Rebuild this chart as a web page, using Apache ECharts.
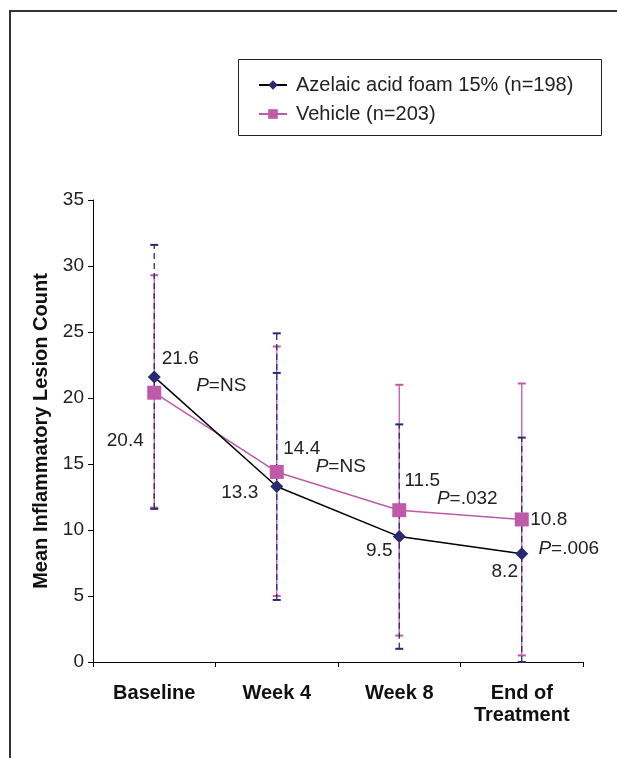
<!DOCTYPE html>
<html>
<head>
<meta charset="utf-8">
<script src="https://cdn.jsdelivr.net/npm/echarts@6/dist/echarts.min.js"></script>
<style>
html,body{margin:0;padding:0;background:#fff;}
#chart{width:617px;height:758px;}
</style>
</head>
<body>
<div id="chart"></div>
<script>
// ---- data ----
const categories = ['Baseline', 'Week 4', 'Week 8', 'End of\nTreatment'];
const azelaicMean = [21.6, 13.3, 9.5, 8.2];
const vehicleMean = [20.4, 14.4, 11.5, 10.8];
const azelaicLow = [11.6, 4.7, 1.0, 0];
const azelaicHigh = [31.6, 24.9, 18.0, 17.0];
const azelaicExtraCap = [null, 21.9, null, null];
const vehicleLow = [11.7, 5.0, 2.0, 0.5];
const vehicleHigh = [29.3, 23.9, 21.0, 21.1];
const pValues = ['NS', 'NS', '.032', '.006'];
const yTicks = [0, 5, 10, 15, 20, 25, 30, 35];
const seriesNames = ['Azelaic acid foam 15% (n=198)', 'Vehicle (n=203)'];

// ---- styling ----
const NAVY = '#2a2a72';
const PINK = '#bf5aa8';
const TXT = '#222';
const FONT = 'Liberation Sans, Arial, sans-serif';
const azOffsets = [[26, -18], [-37, 6], [-20, 14], [-17, 18]];
const vhOffsets = [[-29, 48], [25, -23], [23, -29], [27, 0]];
const pOffsets = [[67, -7], [64, -5], [68, -11], [47, 29]];

function errRender(color, dashed, extra) {
  return function (params, api) {
    const i = api.value(0);
    const lo = api.coord([i, api.value(1)]);
    const hi = api.coord([i, api.value(2)]);
    const cw = 4;
    const st = { stroke: color, lineWidth: 1.3 };
    const children = [
      { type: 'line', shape: { x1: lo[0], y1: lo[1], x2: hi[0], y2: hi[1] },
        style: Object.assign({}, st, dashed ? { lineDash: [6, 4] } : {}) },
      { type: 'line', shape: { x1: lo[0] - cw, y1: lo[1], x2: lo[0] + cw, y2: lo[1] }, style: Object.assign({}, st, { lineWidth: 2 }) },
      { type: 'line', shape: { x1: hi[0] - cw, y1: hi[1], x2: hi[0] + cw, y2: hi[1] }, style: Object.assign({}, st, { lineWidth: 2 }) }
    ];
    if (extra && extra[i] != null) {
      const ex = api.coord([i, extra[i]]);
      children.push({ type: 'line', shape: { x1: ex[0] - cw, y1: ex[1], x2: ex[0] + cw, y2: ex[1] }, style: Object.assign({}, st, { lineWidth: 2 }) });
    }
    return { type: 'group', children: children };
  };
}

function shift(offsets) {
  return function (params) {
    const o = offsets[params.dataIndex];
    return { dx: o[0], dy: o[1], hideOverlap: false };
  };
}

const chart = echarts.init(document.getElementById('chart'), null, { renderer: 'canvas' });

const option = {
  backgroundColor: '#fff',
  animation: false,
  textStyle: { fontFamily: FONT },
  graphic: [
    { type: 'rect', shape: { x: 10, y: 11, width: 700, height: 800 }, style: { fill: 'none', stroke: '#333', lineWidth: 2 }, z: 0 },
    { type: 'rect', shape: { x: 238.5, y: 59.5, width: 363, height: 76 }, style: { fill: '#fff', stroke: '#222', lineWidth: 1 }, z: 1 }
  ],
  legend: {
    data: seriesNames,
    orient: 'vertical',
    left: 253,
    top: 70,
    itemGap: 9,
    itemWidth: 28,
    itemHeight: 12,
    z: 5,
    textStyle: { fontSize: 20, color: TXT, fontFamily: FONT, padding: [0, 0, 0, 4] }
  },
  grid: { left: 93, right: 34, top: 200, bottom: 96 },
  xAxis: {
    type: 'category',
    data: categories,
    boundaryGap: true,
    axisLine: { lineStyle: { color: '#000', width: 1 } },
    axisTick: { show: true, length: 5, lineStyle: { color: '#000' } },
    axisLabel: { interval: 0, fontSize: 20, fontWeight: 'bold', color: '#111', margin: 20, lineHeight: 22, fontFamily: FONT }
  },
  yAxis: {
    type: 'value',
    min: 0, max: 35, interval: 5,
    name: 'Mean Inflammatory Lesion Count',
    nameLocation: 'middle',
    nameGap: 42,
    nameTextStyle: { fontSize: 20, fontWeight: 'bold', color: '#111', fontFamily: FONT },
    axisLine: { show: true, lineStyle: { color: '#000', width: 1 } },
    axisTick: { show: true, length: 5, lineStyle: { color: '#000' } },
    splitLine: { show: false },
    axisLabel: { fontSize: 19, color: TXT, margin: 9, fontFamily: FONT,
      formatter: function (v) { return yTicks.indexOf(v) >= 0 ? String(v) : ''; } }
  },
  series: [
    {
      type: 'custom', name: 'vehicleErr', silent: true, z: 2,
      renderItem: errRender(PINK, false, null),
      data: categories.map((c, i) => [i, vehicleLow[i], vehicleHigh[i]])
    },
    {
      type: 'custom', name: 'azelaicErr', silent: true, z: 3,
      renderItem: errRender(NAVY, true, azelaicExtraCap),
      data: categories.map((c, i) => [i, azelaicLow[i], azelaicHigh[i]])
    },
    {
      type: 'line', name: seriesNames[1], z: 4,
      data: vehicleMean,
      color: PINK,
      lineStyle: { color: PINK, width: 1.5 },
      itemStyle: { color: PINK },
      symbol: 'rect', symbolSize: 14,
      label: { show: true, position: 'inside', fontSize: 19, color: TXT, fontFamily: FONT },
      labelLayout: shift(vhOffsets)
    },
    {
      type: 'line', name: seriesNames[0], z: 5,
      data: azelaicMean,
      color: NAVY,
      lineStyle: { color: '#000', width: 1.5 },
      itemStyle: { color: NAVY },
      symbol: 'diamond', symbolSize: 13,
      label: { show: true, position: 'inside', fontSize: 19, color: TXT, fontFamily: FONT },
      labelLayout: shift(azOffsets)
    },
    {
      type: 'scatter', name: 'pvals', z: 6, silent: true,
      symbolSize: 1,
      itemStyle: { color: 'rgba(0,0,0,0)' },
      data: vehicleMean.map((v, i) => [i, v]),
      label: { show: true, position: 'inside', fontSize: 19, color: TXT, fontFamily: FONT,
        textBorderWidth: 0, textBorderColor: 'transparent', opacity: 1,
        formatter: function (p) { return '{i|P}={t|' + pValues[p.dataIndex] + '}'; },
        rich: {
          i: { fontStyle: 'italic', fontSize: 19, color: TXT, fontFamily: FONT, textBorderWidth: 0 },
          t: { fontSize: 19, color: TXT, fontFamily: FONT, textBorderWidth: 0 }
        } },
      labelLayout: shift(pOffsets)
    }
  ]
};
chart.setOption(option);
</script>
</body>
</html>
